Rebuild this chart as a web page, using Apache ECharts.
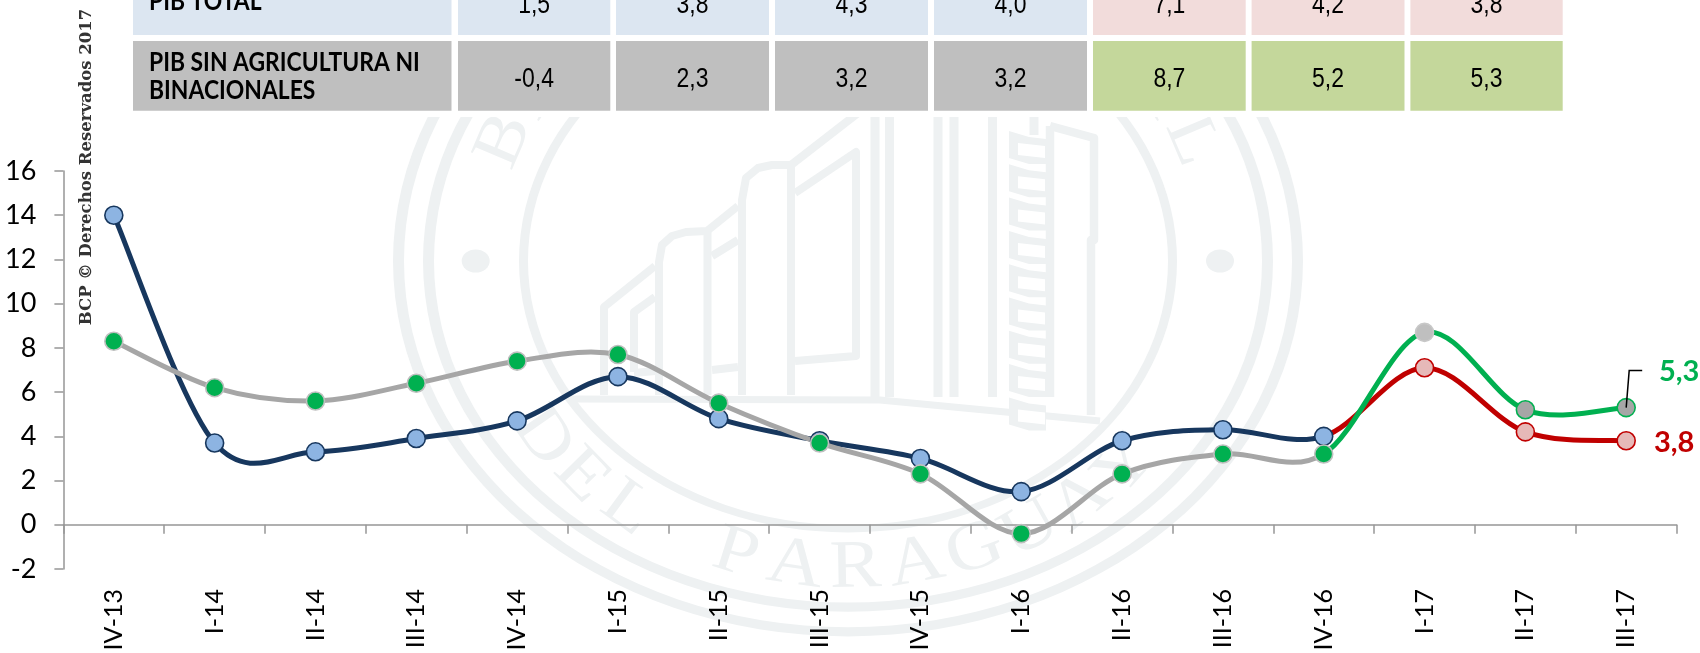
<!DOCTYPE html>
<html><head><meta charset="utf-8">
<style>html,body{margin:0;padding:0;background:#fff}#c{width:1700px;height:653px}</style>
<script src="https://cdn.jsdelivr.net/npm/echarts@6/dist/echarts.min.js"></script>
</head><body><div id="c"></div>
<script>
const quarters=['IV-13','I-14','II-14','III-14','IV-14','I-15','II-15','III-15','IV-15','I-16','II-16','III-16','IV-16','I-17','II-17','III-17'];
const pibTotal=[14,3.7,3.3,3.9,4.7,6.7,4.8,3.8,3.0,1.5,3.8,4.3,4.0,7.1,4.2,3.8];
const pibSinAgri=[8.3,6.2,5.6,6.4,7.4,7.7,5.5,3.7,2.3,-0.4,2.3,3.2,3.2,8.7,5.2,5.3];
const tablaFilas=['PIB TOTAL','PIB SIN AGRICULTURA NI','BINACIONALES'];
const tablaTotal=['1,5','3,8','4,3','4,0','7,1','4,2','3,8'];
const tablaSinAgri=['-0,4','2,3','3,2','3,2','8,7','5,2','5,3'];
const yMin=-2, yMax=16, yInterval=2;
const firstProjected=13;

const WM='#eef1f2', Z=-5;
const SANS='"Liberation Sans",sans-serif';
const HUM='Lato,"Open Sans",sans-serif';
const el=[];
const cx=848,cy=261,sy=0.825;
[[444,455],[414,425],[320,329]].forEach(r=>el.push({type:'ring',x:cx,y:cy,scaleY:sy,z:Z,silent:true,shape:{cx:0,cy:0,r0:r[0],r:r[1]},style:{fill:WM}}));
[475.7,1220].forEach(x=>el.push({type:'circle',x:x,y:cy,scaleY:0.83,z:Z,silent:true,shape:{cx:0,cy:0,r:14},style:{fill:WM}}));
function letters(txt,t0,t1,top){
  const n=txt.length-1;
  [...txt].forEach((ch,i)=>{
    if(ch===' ')return;
    const t=t0+(t1-t0)*i/n, a=t*Math.PI/180, R=373;
    el.push({type:'text',x:cx+R*Math.cos(a),y:cy+sy*R*Math.sin(a),z:Z,silent:true,
      rotation:(top?270-t:90-t)*Math.PI/180,scaleX:1.15,
      style:{text:ch,fill:WM,font:'68px "Liberation Serif",serif',align:'center',verticalAlign:'middle'}});
  });
}
letters('BANCO CENTRAL',203,337,true);
letters('DEL PARAGUAY',145,42,false);
function pl(p,w){el.push({type:'polyline',z:Z,silent:true,shape:{points:p},style:{stroke:WM,lineWidth:w||8,fill:null,lineJoin:'round'}});}
pl([[604,395],[604,307],[655,266]]);
pl([[634,372],[634,312],[655,297]]);
pl([[634,373],[655,371]]);
pl([[659,395],[659,262],[662,245],[672,236],[686,232],[707,231],[738,206]]);
pl([[707.5,231],[707.5,395]]);
pl([[712,256],[738,240]]);
pl([[712,370],[738,367]]);
pl([[742,395],[742,200],[746,178],[758,168],[772,165],[791,165],[858,113]]);
pl([[791,165],[791,395]]);
pl([[795,193],[856,152],[856,356],[795,361]]);
[875,889.5,938,954,992.5].forEach(x=>pl([[x,113],[x,397]],9));
pl([[1034,113],[1034,135]],9);
pl([[1050,126],[1050,397]],8.5);
pl([[1050,126],[1094,138],[1094,240],[1091,240],[1091,415]],8.5);
pl([[573,399],[880,400],[1100,421]],7);
for(let k=0;k<9;k++){
  const y=131+k*33.3;
  el.push({type:'polygon',z:Z,silent:true,shape:{points:[[1009,y],[1029,y+6],[1046,y+8],[1046,y+33],[1029,y+33],[1009,y+27]]},style:{fill:WM}});
  el.push({type:'polygon',z:Z+1,silent:true,shape:{points:[[1018,y+12],[1045,y+15],[1045,y+27],[1018,y+24]]},style:{fill:'#fff'}});
}
el.push({type:'rect',z:-1,silent:true,shape:{x:0,y:0,width:1700,height:117},style:{fill:'#fff'}});
const colX=[[133,451.5],[458,610.3],[616,769],[775,928],[934,1087],[1093,1245.7],[1251.6,1404.5],[1410.4,1562.7]];
const rows=[{y:-40,h:75,a:'#dce6f1',b:'#f2dcdb',vals:tablaTotal,ty:5},{y:41,h:69.7,a:'#bfbfbf',b:'#c4d79b',vals:tablaSinAgri,ty:79}];
rows.forEach(r=>{
  colX.forEach((c,i)=>el.push({type:'rect',z:1,silent:true,shape:{x:c[0],y:r.y,width:c[1]-c[0],height:r.h},style:{fill:i>=5?r.b:r.a}}));
  r.vals.forEach((v,i)=>{const c=colX[i+1];
    el.push({type:'text',z:2,silent:true,x:(c[0]+c[1])/2,y:r.ty,scaleX:0.82,style:{text:v,fill:'#000',font:'28px '+SANS,align:'center',verticalAlign:'middle'}});});
});
const hdr=(t,x,y,sx)=>el.push({type:'text',z:2,silent:true,x:x,y:y,scaleX:sx,style:{text:t,fill:'#000',font:'bold 26px '+HUM,align:'left',verticalAlign:'middle'}});
hdr(tablaFilas[0],149,2,0.88);
hdr(tablaFilas[1],149,62.5,0.88);
hdr(tablaFilas[2],149,91,0.88);
el.push({type:'text',z:20,silent:true,x:87,y:167,rotation:Math.PI/2,style:{text:'BCP © Derechos Reservados 2017',fill:'#333',font:'bold 16.5px "DejaVu Serif",serif',align:'center',verticalAlign:'middle'}});

// Spline through a whole series, one bezier per segment (coloured by segment)
function curve(name,arr,colorA,colorB){
  return {type:'custom',name:name,coordinateSystem:'cartesian2d',clip:false,silent:true,
    data:arr.map((v,i)=>[i,v]),encode:{x:0,y:1},
    renderItem:function(params,api){
      const i=params.dataIndex, n=arr.length;
      if(i>=n-1)return null;
      const P=k=>{const j=Math.max(0,Math.min(n-1,k));return api.coord([j,arr[j]]);};
      const p0=P(i-1),p1=P(i),p2=P(i+1),p3=P(i+2);
      return {type:'bezierCurve',shape:{x1:p1[0],y1:p1[1],x2:p2[0],y2:p2[1],
        cpx1:p1[0]+(p2[0]-p0[0])/6,cpy1:p1[1]+(p2[1]-p0[1])/6,
        cpx2:p2[0]-(p3[0]-p1[0])/6,cpy2:p2[1]-(p3[1]-p1[1])/6},
        style:{stroke:i+1>=firstProjected?colorB:colorA,lineWidth:5,fill:null,lineCap:'round'}};
    }};
}
const mk=(v,fill,border,extra)=>Object.assign({value:v,itemStyle:{color:fill,borderColor:border,borderWidth:1.6}},extra||{});
const endLabel=(txt,color,off)=>({label:{show:true,formatter:txt,position:'right',distance:0,offset:off,color:color,fontFamily:HUM,fontWeight:'bold',fontSize:29}});
const marks={type:'line',showAllSymbol:true,symbol:'circle',clip:false,lineStyle:{width:0,opacity:0},silent:true};
const last=pibTotal.length-1;
const series=[
 curve('PIB TOTAL linea',pibTotal,'#17375e','#c00000'),
 Object.assign({},marks,{name:'PIB TOTAL',symbolSize:18,
  data:pibTotal.map((v,i)=>i>=firstProjected?mk(v,'#e6b9b8','#c00000',i===last?endLabel(String(v).replace('.',','),'#c00000',[18,2]):null):mk(v,'#8db4e2','#17375e'))}),
 curve('PIB SIN AGRICULTURA linea',pibSinAgri,'#a6a6a6','#00b050'),
 Object.assign({},marks,{name:'PIB SIN AGRICULTURA NI BINACIONALES',symbolSize:18,
  data:pibSinAgri.map((v,i)=>i<firstProjected?mk(v,'#00b050','#bfbfbf'):i===firstProjected?mk(v,'#bfbfbf','#c8c8c8'):mk(v,'#a6a6a6','#00b050',i===last?endLabel(String(v).replace('.',','),'#00b050',[23,-36]):null))})
];
const axisLine={lineStyle:{color:'#969696',width:1.5}};
const chart=echarts.init(document.getElementById('c'),null,{renderer:'canvas'});
chart.setOption({animation:false,backgroundColor:'#fff',
 grid:{left:63.4,right:1700-1676.6,top:171,bottom:653-569,containLabel:false,outerBoundsMode:'none'},
 xAxis:{type:'category',data:quarters,boundaryGap:true,axisLine:Object.assign({onZero:true},axisLine),
  axisTick:{show:true,length:9,alignWithLabel:false,lineStyle:{color:'#969696',width:1.5},interval:0},
  axisLabel:{interval:0,rotate:90,margin:20,color:'#000',fontFamily:HUM,fontSize:25,hideOverlap:false},splitLine:{show:false}},
 yAxis:{type:'value',min:yMin,max:yMax,interval:yInterval,axisLine:Object.assign({show:true},axisLine),
  axisTick:{show:true,length:9,lineStyle:{color:'#969696',width:1.5}},
  axisLabel:{margin:27,color:'#000',fontFamily:HUM,fontSize:27},splitLine:{show:false}},
 series:series,graphic:{elements:el}});
const p=chart.convertToPixel({xAxisIndex:0,yAxisIndex:0},[last,pibSinAgri[last]]);
chart.setOption({graphic:{elements:el.concat([{type:'polyline',z:20,silent:true,
 shape:{points:[[p[0],p[1]],[p[0]+3,p[1]-37],[p[0]+16,p[1]-37]]},style:{stroke:'#000',lineWidth:1.5,fill:null}}])}});
</script></body></html>
